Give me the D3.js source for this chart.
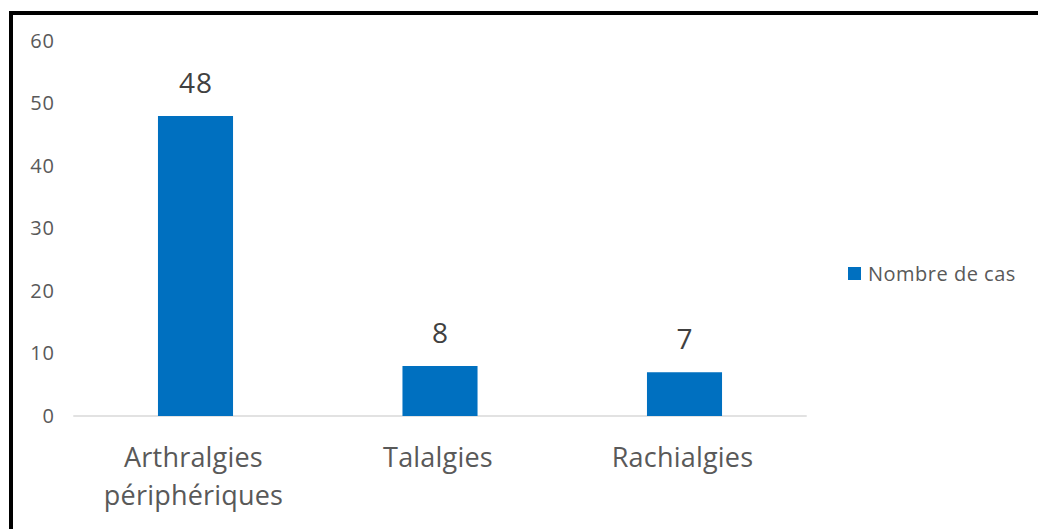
<!DOCTYPE html>
<html>
<head>
<meta charset="utf-8">
<script src="https://cdn.jsdelivr.net/npm/d3@7"></script>
<style>
  html, body { margin: 0; padding: 0; background: #fff; overflow: hidden; }
  svg { display: block; }
</style>
</head>
<body>
<svg id="chart" width="1038" height="529"></svg>
<script>
// Chart data
const categories = ["Arthralgies\npériphériques", "Talalgies", "Rachialgies"];
const values = [48, 8, 7];
const seriesName = "Nombre de cas";
const yTicks = [0, 10, 20, 30, 40, 50, 60];

const svg = d3.select("#chart");
const font = "'Open Sans', 'Noto Sans', sans-serif";

// Frame around the chart area
svg.append("rect")
  .attr("x", 11).attr("y", 13)
  .attr("width", 1040).attr("height", 530)
  .attr("fill", "none").attr("stroke", "#000").attr("stroke-width", 4);

const x = d3.scaleBand()
  .domain(categories)
  .range([73.25, 806.75])
  .paddingInner(0.693)
  .paddingOuter(0.3465);

const y = d3.scaleLinear().domain([0, 60]).range([416, 41]);

// Value axis labels
const yAxis = svg.append("g")
  .attr("transform", "translate(55,0)")
  .call(d3.axisLeft(y).tickValues(yTicks).tickSize(0).tickPadding(0));
yAxis.select(".domain").remove();
yAxis.selectAll("text")
  .attr("font-family", font).attr("font-size", 20).attr("fill", "#595959")
  .attr("letter-spacing", 1)
  .attr("text-anchor", "end");

// Baseline
svg.append("line")
  .attr("x1", x.range()[0]).attr("x2", x.range()[1])
  .attr("y1", y(0)).attr("y2", y(0))
  .attr("stroke", "#d9d9d9").attr("stroke-width", 1.3);

// Bars
svg.selectAll("rect.bar")
  .data(values)
  .join("rect")
  .attr("class", "bar")
  .attr("x", (d, i) => x(categories[i]))
  .attr("width", x.bandwidth())
  .attr("y", d => y(d))
  .attr("height", d => y(0) - y(d))
  .attr("fill", "#0070c0");

// Data labels
svg.selectAll("text.val")
  .data(values)
  .join("text")
  .attr("class", "val")
  .attr("x", (d, i) => x(categories[i]) + x.bandwidth() / 2 + 0.5)
  .attr("y", d => y(d) - 23)
  .attr("text-anchor", "middle")
  .attr("font-family", font).attr("font-size", 28).attr("fill", "#404040")
  .attr("letter-spacing", 1)
  .text(d => d);

// Category labels
const xAxis = svg.append("g");
categories.forEach(c => {
  const lines = c.split("\n");
  const cx = x(c) + x.bandwidth() / 2 - 2;
  const t = xAxis.append("text")
    .attr("x", cx)
    .attr("y", 467)
    .attr("text-anchor", "middle")
    .attr("font-family", font).attr("font-size", 27).attr("fill", "#595959")
    .attr("letter-spacing", 0.2);
  lines.forEach((l, i) => {
    t.append("tspan")
      .attr("x", cx)
      .attr("dy", i === 0 ? 0 : 38)
      .text(l);
  });
});

// Legend
const legend = svg.append("g").attr("transform", "translate(848,267)");
legend.append("rect").attr("width", 13).attr("height", 13).attr("fill", "#0070c0");
legend.append("text")
  .attr("x", 20).attr("y", 13.5)
  .attr("font-family", font).attr("font-size", 20).attr("fill", "#595959")
  .attr("letter-spacing", 0.5)
  .text(seriesName);
</script>
</body>
</html>
